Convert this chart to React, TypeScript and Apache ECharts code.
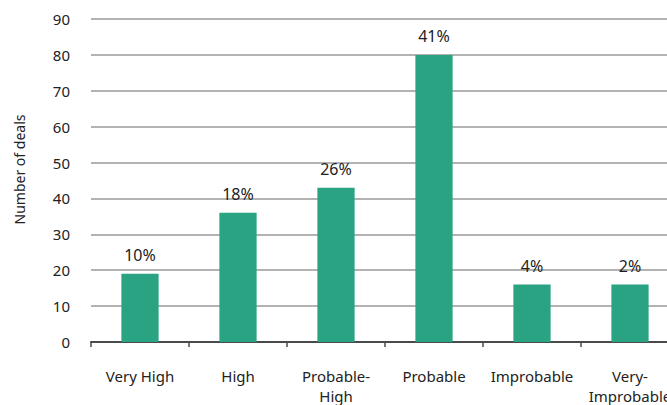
import React, { useEffect, useRef } from "react";
import * as echarts from "echarts";

// Deal likelihood buckets
const categories = ["Very High", "High", "Probable-\nHigh", "Probable", "Improbable", "Very-\nImprobable"];
// Number of deals in each bucket
const dealCounts = [19, 36, 43, 80, 16, 16];
// Share of total shown above each bar
const shareLabels = ["10%", "18%", "26%", "41%", "4%", "2%"];
// Value axis range
const yMin = 0;
const yMax = 90;
const yStep = 10;

const FONT = "'Noto Sans', 'Open Sans', sans-serif";

export default function App() {
  const ref = useRef<HTMLDivElement>(null);

  useEffect(() => {
    if (!ref.current) return;
    const chart = echarts.init(ref.current, undefined, { renderer: "svg" });
    chart.setOption({
      animation: false,
      textStyle: { fontFamily: FONT },
      grid: {
        left: 91,
        top: 19,
        bottom: 63,
        right: -12,
        containLabel: false,
        outerBoundsMode: "none",
      },
      xAxis: {
        type: "category",
        data: categories,
        boundaryGap: true,
        axisLine: { lineStyle: { color: "#4a4a4a", width: 2 } },
        axisTick: { show: true, length: 5, lineStyle: { color: "#4a4a4a", width: 1.5 } },
        axisLabel: {
          color: "#222",
          fontSize: 15,
          fontFamily: FONT,
          margin: 24,
          lineHeight: 20,
          interval: 0,
        },
      },
      yAxis: {
        type: "value",
        min: yMin,
        max: yMax,
        interval: yStep,
        name: "Number of deals",
        nameLocation: "middle",
        nameGap: 65,
        nameRotate: 90,
        nameTextStyle: { color: "#222", fontSize: 14, fontFamily: FONT, padding: [0, 0, 0, 22] },
        axisLine: { show: false },
        axisTick: { show: false },
        axisLabel: { color: "#222", fontSize: 15, fontFamily: FONT, margin: 21 },
        splitLine: { lineStyle: { color: "#9a9a9a", width: 1.5 } },
      },
      series: [
        {
          type: "bar",
          data: dealCounts,
          barWidth: "38%",
          itemStyle: { color: "#2aa382" },
          label: {
            show: true,
            position: "top",
            distance: 11,
            color: "#222",
            fontSize: 16,
            fontFamily: FONT,
            formatter: (p: any) => shareLabels[p.dataIndex],
          },
        },
      ],
    });
    return () => chart.dispose();
  }, []);

  return (
    <div
      ref={ref}
      style={{ position: "fixed", left: 0, top: 0, width: 667, height: 405, background: "#fff" }}
    />
  );
}
